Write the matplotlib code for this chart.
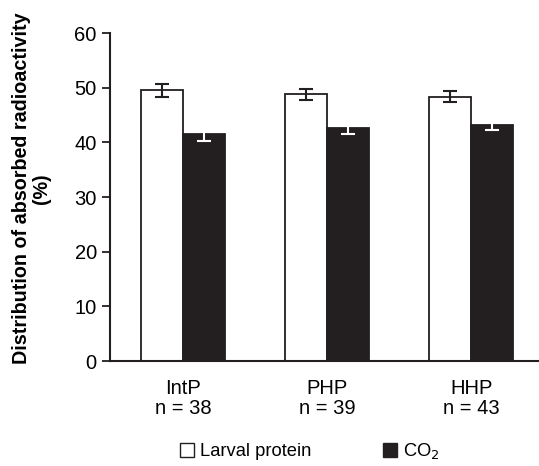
import matplotlib
matplotlib.use('Agg')
import matplotlib.pyplot as plt
import matplotlib.patches as mpatches
import numpy as np

plt.rcParams['font.family'] = ['Liberation Sans', 'DejaVu Sans']

groups = ['IntP\nn = 38', 'PHP\nn = 39', 'HHP\nn = 43']
larval = [49.5, 48.8, 48.4]
larval_err = [1.2, 1.0, 1.0]
co2 = [41.5, 42.6, 43.2]
co2_err = [1.2, 1.1, 0.9]

dark = '#231f20'
x = np.arange(len(groups))
w = 0.29

fig = plt.figure(figsize=(5.39, 4.66), dpi=100)
ax = fig.add_axes([0.204, 0.225, 0.796, 0.704])

ax.bar(x - w/2, larval, w, color='white', edgecolor=dark, linewidth=1.3)
ax.bar(x + w/2, co2, w, color=dark, edgecolor=dark, linewidth=1.3)
ax.errorbar(x - w/2, larval, yerr=larval_err, fmt='none', ecolor=dark,
            elinewidth=1.5, capsize=4.8, capthick=1.5)
ax.errorbar(x + w/2, co2, yerr=co2_err, fmt='none', ecolor='white',
            elinewidth=1.5, capsize=4.8, capthick=1.5)

ax.set_ylim(0, 60)
ax.set_xlim(-0.507, 2.47)
ax.set_yticks(range(0, 61, 10))
ax.set_xticks(x)
ax.set_xticklabels(groups, fontsize=14.5, linespacing=1.05)
ax.tick_params(axis='x', length=0, pad=13)
ax.tick_params(axis='y', length=6, width=1.3, labelsize=14.5, color=dark, pad=3.5)
for s in ['top', 'right']:
    ax.spines[s].set_visible(False)
for s in ['left', 'bottom']:
    ax.spines[s].set_linewidth(1.5)
    ax.spines[s].set_color(dark)

ax.set_ylabel('Distribution of absorbed radioactivity\n(%)', fontsize=14.2,
              fontweight='bold', linespacing=1.05)
ax.yaxis.set_label_coords(-0.138, 0.527)

handles = [mpatches.Patch(facecolor='white', edgecolor=dark, linewidth=1),
           mpatches.Patch(facecolor=dark, edgecolor=dark)]
fig.legend(handles, ['Larval protein', 'CO$_2$'], loc='center',
           bbox_to_anchor=(0.575, 0.032), ncol=2, frameon=False, fontsize=13.2,
           handlelength=0.78, handleheight=0.78, handletextpad=0.33,
           columnspacing=3.9)

fig.savefig('out.png', dpi=100)
